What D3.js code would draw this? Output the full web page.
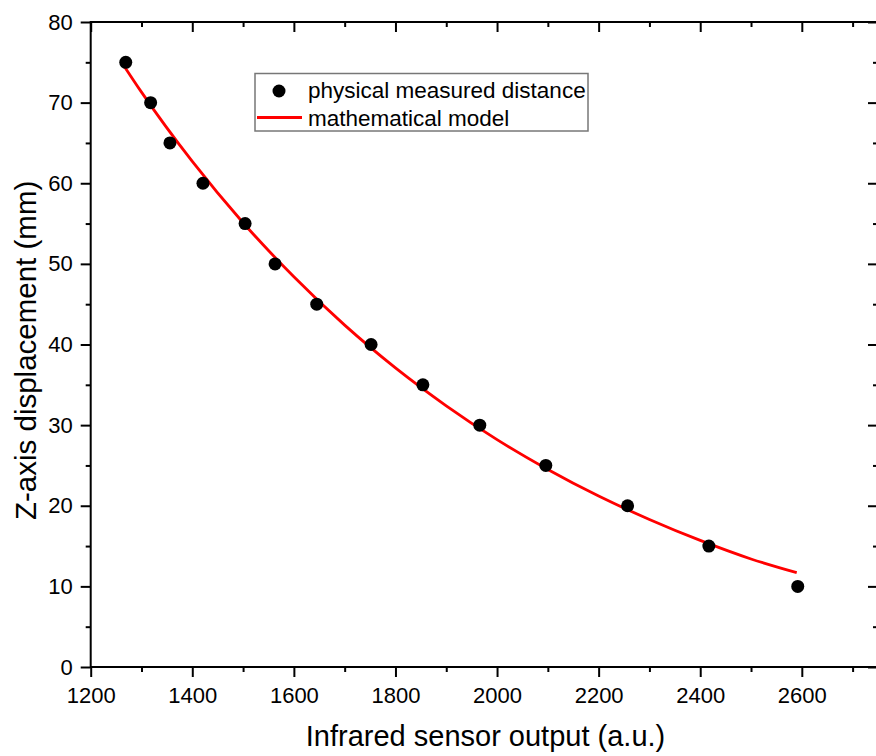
<!DOCTYPE html>
<html><head><meta charset="utf-8">
<script src="https://cdn.jsdelivr.net/npm/d3@7"></script>
<style>body{margin:0;background:#fff}svg{display:block}text{font-family:Arial,"Liberation Sans",sans-serif}</style>
</head><body><svg id="c" width="876" height="756"></svg>
<script>
const sensorOutput = [1269, 1318, 1356, 1421, 1504, 1563, 1645, 1752, 1854, 1966, 2096, 2257, 2417, 2592];
const measuredDistance = [75, 70, 65, 60, 55, 50, 45, 40, 35, 30, 25, 20, 15, 10];
const modelX = [1263, 1300, 1400, 1500, 1600, 1700, 1800, 1900, 2000, 2100, 2200, 2300, 2400, 2500, 2590];
const modelY = [74.8, 71.3, 62.7, 55.1, 48.4, 42.4, 37.1, 32.4, 28.2, 24.5, 21.2, 18.3, 15.7, 13.4, 11.7];
const xMajorTicks = [1200, 1400, 1600, 1800, 2000, 2200, 2400, 2600];
const xMinorTicks = [1300, 1500, 1700, 1900, 2100, 2300, 2500, 2700];
const yMajorTicks = [0, 10, 20, 30, 40, 50, 60, 70, 80];
const yMinorTicks = [5, 15, 25, 35, 45, 55, 65, 75];
const xTitle = "Infrared sensor output (a.u.)";
const yTitle = "Z-axis displacement (mm)";
const legendLabels = ["physical measured distance", "mathematical model"];

const svg = d3.select("#c");
const L = 90.7, R = 878, T = 22, B = 667;
const x = d3.scaleLinear().domain([1200, 2750]).range([L, R]);
const y = d3.scaleLinear().domain([0, 80]).range([B, T]);

function styleAxis(g){
  g.selectAll("path").remove();
  g.selectAll("line").attr("stroke","#000").attr("stroke-width",2);
  g.selectAll("text").attr("font-size",22).attr("fill","#000");
}
svg.append("rect").attr("x",L).attr("y",T).attr("width",R-L).attr("height",B-T)
  .attr("fill","none").attr("stroke","#000").attr("stroke-width",2);

svg.append("g").attr("transform",`translate(0,${B})`)
  .call(d3.axisBottom(x).tickValues(xMajorTicks).tickSize(10).tickPadding(10).tickFormat(d3.format("d"))).call(styleAxis);
svg.append("g").attr("transform",`translate(0,${B})`)
  .call(d3.axisBottom(x).tickValues(xMinorTicks).tickSize(5).tickFormat("")).call(styleAxis);
svg.append("g").attr("transform",`translate(0,${T})`)
  .call(d3.axisTop(x).tickValues(xMajorTicks).tickSize(-10).tickFormat("")).call(styleAxis);
svg.append("g").attr("transform",`translate(0,${T})`)
  .call(d3.axisTop(x).tickValues(xMinorTicks).tickSize(-5).tickFormat("")).call(styleAxis);
svg.append("g").attr("transform",`translate(${L},0)`)
  .call(d3.axisLeft(y).tickValues(yMajorTicks).tickSize(10).tickPadding(8).tickFormat(d3.format("d"))).call(styleAxis);
svg.append("g").attr("transform",`translate(${L},0)`)
  .call(d3.axisLeft(y).tickValues(yMinorTicks).tickSize(5).tickFormat("")).call(styleAxis);
svg.append("g").attr("transform",`translate(${R},0)`)
  .call(d3.axisRight(y).tickValues(yMajorTicks).tickSize(-10).tickFormat("")).call(styleAxis);
svg.append("g").attr("transform",`translate(${R},0)`)
  .call(d3.axisRight(y).tickValues(yMinorTicks).tickSize(-5).tickFormat("")).call(styleAxis);

const line = d3.line().x(d=>x(d[0])).y(d=>y(d[1])).curve(d3.curveMonotoneX);
svg.append("path").datum(modelX.map((v,i)=>[v,modelY[i]]))
  .attr("d",line).attr("fill","none").attr("stroke","#ff0000").attr("stroke-width",2.8);

svg.append("g").selectAll("circle").data(sensorOutput.map((v,i)=>[v,measuredDistance[i]]))
  .join("circle").attr("cx",d=>x(d[0])).attr("cy",d=>y(d[1])).attr("r",6.5).attr("fill","#000");

svg.append("text").attr("x",485.5).attr("y",746).attr("text-anchor","middle")
  .attr("font-size",29).text(xTitle);
svg.append("text").attr("transform",`translate(36,520) rotate(-90)`).attr("text-anchor","start")
  .attr("font-size",29.5).text(yTitle);

const lg = svg.append("g");
lg.append("rect").attr("x",255).attr("y",73.5).attr("width",333).attr("height",57.5)
  .attr("fill","#fff").attr("stroke","#777").attr("stroke-width",1.5);
lg.append("circle").attr("cx",279).attr("cy",91).attr("r",6.5).attr("fill","#000");
lg.append("line").attr("x1",257).attr("x2",302).attr("y1",117.5).attr("y2",117.5)
  .attr("stroke","#ff0000").attr("stroke-width",2.8);
lg.selectAll("text.lt").data(legendLabels).join("text").attr("class","lt")
  .attr("x",308).attr("y",(d,i)=>98+i*28).attr("font-size",22.5).attr("fill","#000").text(d=>d);
</script></body></html>
